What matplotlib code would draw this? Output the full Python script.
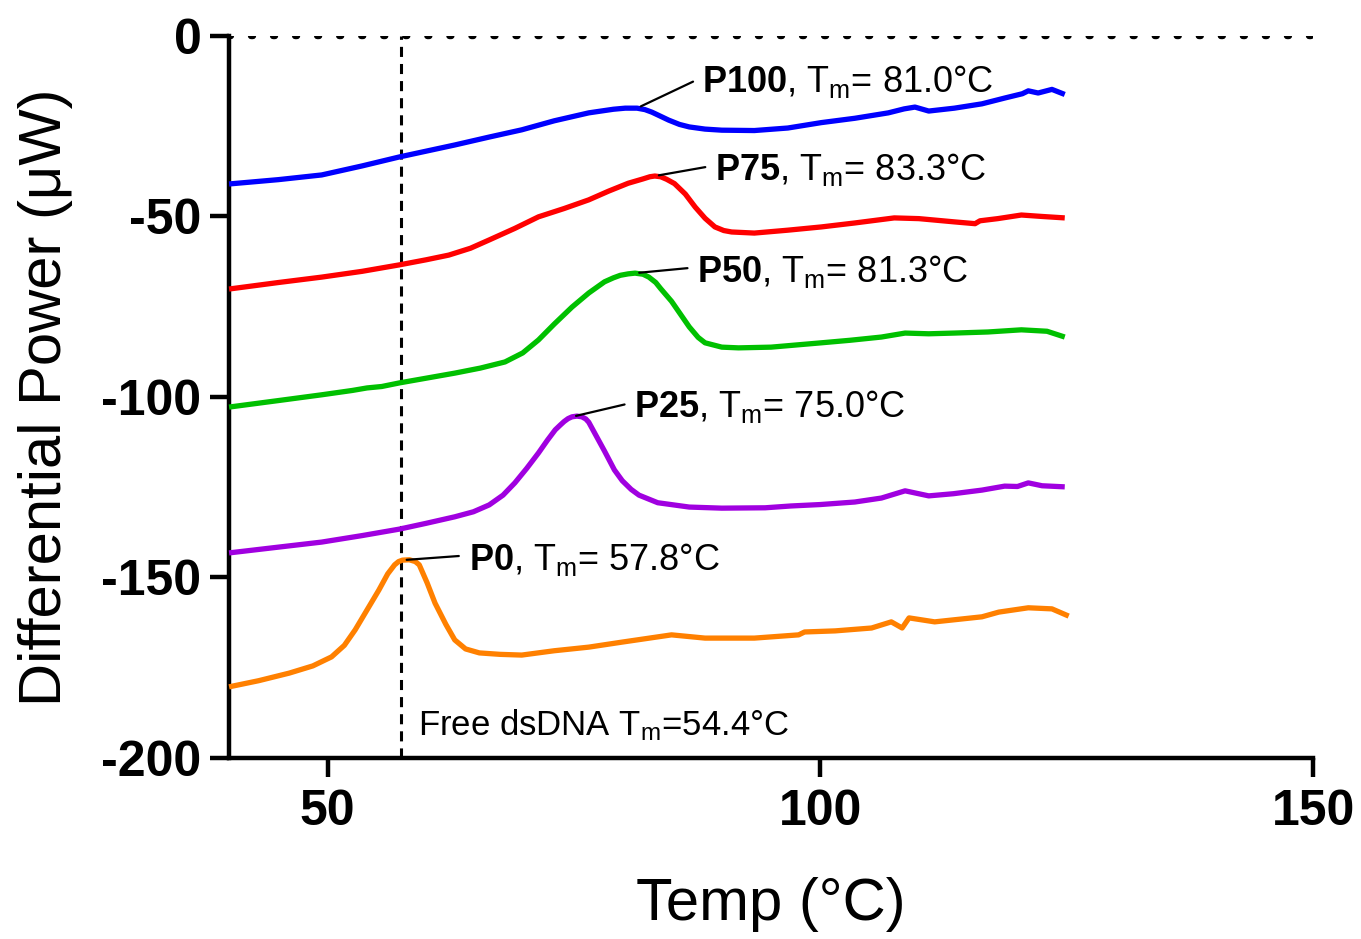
#!/usr/bin/env python3
"""
DSC thermograms of the P0..P100 series, stacked, with melting temperatures.
"""

import matplotlib
matplotlib.use("Agg")
import matplotlib.pyplot as plt
import numpy as np

FIG_SIZE = (13.61, 9.39)
DPI = 100

plt.rcParams['font.family'] = ['Liberation Sans', 'DejaVu Sans']
plt.rcParams['mathtext.fontset'] = 'custom'
plt.rcParams['mathtext.rm'] = 'Liberation Sans'
plt.rcParams['mathtext.bf'] = 'Liberation Sans:bold'
plt.rcParams['mathtext.it'] = 'Liberation Sans:italic'
plt.rcParams['axes.unicode_minus'] = False

# --- data ----------------------------------------------------------------
p100_t = [40.0, 45.0, 49.4, 53.5, 57.3, 62.9, 66.4, 69.7, 73.0, 76.5, 78.0,
          79.0, 80.2, 81.4, 82.2, 82.9, 83.6, 84.6, 85.7, 86.7, 88.3, 90.0,
          93.3, 96.7, 100.1, 103.5, 106.9, 108.5, 109.6, 111.0, 113.6, 116.4,
          118.7, 120.5, 121.1, 122.1, 123.5, 124.8]
p100_p = [-41.0, -39.8, -38.5, -36.0, -33.5, -30.2, -28.0, -26.0, -23.5,
          -21.3, -20.7, -20.3, -20.0, -20.0, -20.4, -21.1, -22.0, -23.3,
          -24.5, -25.2, -25.8, -26.1, -26.2, -25.5, -24.0, -22.8, -21.3,
          -20.2, -19.7, -20.8, -20.0, -18.8, -17.2, -16.0, -15.2, -15.8,
          -14.8, -16.2]

p75_t = [40.0, 45.0, 49.4, 53.5, 57.3, 60.0, 62.3, 64.5, 66.4, 69.0, 71.4,
         74.0, 76.5, 78.5, 80.5, 82.0, 82.7, 83.2, 83.8, 84.4, 85.2, 86.3,
         87.3, 88.3, 89.3, 90.2, 91.0, 93.3, 96.7, 100.1, 103.5, 107.5,
         110.0, 113.6, 115.7, 116.2, 118.0, 120.4, 122.5, 124.8]
p75_p = [-70.1, -68.3, -66.8, -65.2, -63.4, -62.0, -60.7, -58.8, -56.5,
         -53.3, -50.1, -47.8, -45.4, -43.0, -40.8, -39.6, -39.0, -38.8,
         -39.0, -39.7, -40.9, -43.8, -47.4, -50.5, -52.9, -53.9, -54.3,
         -54.6, -53.8, -52.9, -51.8, -50.4, -50.6, -51.5, -52.0, -51.2,
         -50.6, -49.6, -50.0, -50.4]

p50_t = [40.0, 45.0, 49.4, 52.5, 54.0, 55.5, 57.3, 60.0, 62.9, 65.5, 68.0,
         69.8, 71.4, 73.0, 74.8, 76.5, 78.1, 79.0, 79.7, 80.5, 81.2, 82.0,
         82.6, 83.3, 83.8, 84.9, 86.7, 87.6, 88.3, 90.0, 91.7, 95.0, 100.1,
         103.0, 106.2, 108.6, 111.0, 113.6, 117.0, 120.4, 123.0, 124.8]
p50_p = [-102.8, -101.0, -99.4, -98.2, -97.5, -97.1, -96.1, -94.8, -93.4,
         -92.0, -90.3, -87.8, -84.2, -79.8, -75.1, -71.2, -68.1, -67.0,
         -66.3, -65.9, -65.7, -66.0, -66.8, -68.3, -70.0, -73.5, -80.6,
         -83.5, -85.0, -86.2, -86.4, -86.2, -85.0, -84.3, -83.4, -82.3,
         -82.5, -82.3, -82.0, -81.4, -81.8, -83.4]

p25_t = [40.0, 45.0, 49.4, 53.5, 57.3, 60.0, 62.9, 64.8, 66.4, 67.8, 69.0,
         70.2, 71.4, 72.3, 73.1, 73.6, 74.0, 74.4, 74.8, 75.3, 75.8, 76.2,
         76.5, 77.1, 78.1, 79.1, 79.9, 80.8, 81.6, 83.5, 86.7, 90.0, 94.4,
         97.0, 100.0, 103.5, 106.2, 108.6, 111.0, 113.5, 116.4, 118.7, 120.0,
         121.1, 122.5, 124.8]
p25_p = [-143.2, -141.6, -140.2, -138.4, -136.6, -135.0, -133.2, -131.8,
         -129.9, -127.2, -123.8, -119.8, -115.5, -112.0, -109.1, -107.8,
         -106.8, -106.0, -105.5, -105.3, -105.5, -106.1, -107.0, -110.0,
         -115.0, -120.2, -123.2, -125.6, -127.2, -129.3, -130.5, -130.8,
         -130.7, -130.2, -129.8, -129.1, -128.0, -126.0, -127.4, -126.8,
         -125.8, -124.7, -124.8, -123.8, -124.6, -124.9]

p0_t = [40.0, 43.0, 46.1, 48.5, 50.4, 51.7, 52.8, 54.0, 55.2, 56.1, 56.8,
        57.2, 57.6, 58.3, 58.9, 59.3, 60.1, 60.9, 62.0, 62.9, 64.0, 65.4,
        67.5, 69.7, 73.0, 76.5, 79.9, 84.9, 88.3, 93.3, 97.8, 98.4, 101.5,
        105.2, 107.2, 108.3, 109.0, 111.6, 116.4, 118.1, 121.1, 123.5,
        125.2]
p0_p = [-180.3, -178.6, -176.5, -174.5, -172.0, -168.8, -164.5, -159.0,
        -153.5, -149.0, -146.5, -145.6, -145.2, -145.1, -145.6, -146.5,
        -151.5, -157.1, -163.0, -167.3, -169.8, -170.9, -171.3, -171.5,
        -170.3, -169.3, -167.9, -165.9, -166.8, -166.8, -165.9, -165.1,
        -164.8, -164.0, -162.3, -164.0, -161.2, -162.3, -160.9, -159.6,
        -158.4, -158.7, -160.7]

names = ["P100", "P75", "P50", "P25", "P0"]
tm_values = [81.0, 83.3, 81.3, 75.0, 57.8]
temps = [p100_t, p75_t, p50_t, p25_t, p0_t]
powers = [p100_p, p75_p, p50_p, p25_p, p0_p]
colors = ["#0000FF", "#FF0000", "#00C000", "#A000E0", "#FF8000"]

# where each label sits (left edge, baseline)
label_x = [88.0, 89.3, 87.5, 81.1, 64.3]
label_y = [-15.6, -40.0, -68.2, -105.6, -148.0]

free_dsdna_tm = 54.4
free_line_x = 57.4
free_label_pos = (59.2, -193.8)

x_ticks = [50, 100, 150]
y_ticks = [0, -50, -100, -150, -200]


def main():
    fig = plt.figure(figsize=FIG_SIZE, dpi=DPI)
    ax = fig.add_axes([0.1683, 0.1928, 0.7965, 0.7689])

    ax.axhline(0, color="black", lw=4.6, linestyle=(0, (0.3, 3.15)),
               dash_capstyle="round", zorder=1)
    ax.axvline(free_line_x, color="black", lw=2.2,
               linestyle=(0, (3.3, 2.3)), zorder=1)

    for temp, power, col, name, tm, lx, ly in zip(temps, powers, colors,
                                                   names, tm_values,
                                                   label_x, label_y):
        ax.plot(temp, power, color=col, lw=3.8, solid_joinstyle="round",
                solid_capstyle="butt", zorder=3, clip_on=False)
        # peak point = sample closest to the reported Tm
        idx = int(np.argmin(np.abs(np.array(temp) - tm)))
        ax.annotate(rf"$\mathbf{{{name}}}$, T$_{{\mathrm{{m}}}}$= {tm:.1f}°C",
                    xy=(temp[idx], power[idx]), xytext=(lx, ly),
                    ha="left", va="baseline", fontsize=26,
                    arrowprops=dict(arrowstyle="-", color="black", lw=1.6,
                                    relpos=(0, 0.62), shrinkA=5,
                                    shrinkB=3))

    ax.text(free_label_pos[0], free_label_pos[1],
            rf"Free dsDNA T$_{{\mathrm{{m}}}}$={free_dsdna_tm:.1f}°C",
            ha="left", va="baseline", fontsize=25)

    ax.set_xlim(40, 150)
    ax.set_ylim(-200, 0)
    ax.set_xticks(x_ticks)
    ax.set_yticks(y_ticks)
    ax.set_xticklabels([str(t) for t in x_ticks], fontweight="bold")
    ax.set_yticklabels([str(t) for t in y_ticks], fontweight="bold")
    ax.tick_params(axis="both", direction="out", length=14, width=3.2,
                   labelsize=36)
    ax.tick_params(axis="y", pad=6)
    ax.tick_params(axis="x", pad=8)

    for side in ("top", "right"):
        ax.spines[side].set_visible(False)
    for side in ("left", "bottom"):
        ax.spines[side].set_linewidth(3.2)

    ax.set_xlabel("Temp (°C)", fontsize=43)
    ax.set_ylabel("Differential Power (μW)", fontsize=43)
    ax.xaxis.set_label_coords(0.5, -0.165)
    ax.yaxis.set_label_coords(-0.144, 0.5)

    fig.savefig("out.png", dpi=DPI)


if __name__ == "__main__":
    main()
